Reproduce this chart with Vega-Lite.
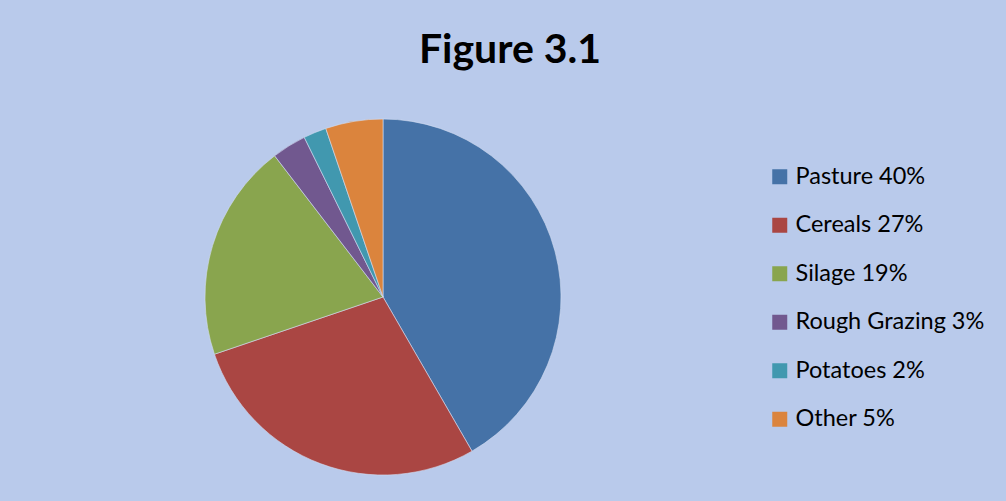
{
  "$schema": "https://vega.github.io/schema/vega-lite/v6.json",
  "width": 356,
  "height": 356,
  "autosize": {"type": "none"},
  "padding": {"left": 205, "top": 119, "right": 445, "bottom": 26},
  "background": "#b9caeb",
  "title": {
    "text": "Figure 3.1",
    "font": "Lato",
    "fontWeight": "bold",
    "fontSize": 41,
    "color": "#000000",
    "anchor": "middle",
    "frame": "group",
    "dx": 127,
    "offset": 46
  },
  "data": {
    "values": [
      {"category": "Pasture 40%", "value": 40, "order": 1},
      {"category": "Cereals 27%", "value": 27, "order": 2},
      {"category": "Silage 19%", "value": 19, "order": 3},
      {"category": "Rough Grazing 3%", "value": 3, "order": 4},
      {"category": "Potatoes 2%", "value": 2, "order": 5},
      {"category": "Other 5%", "value": 5, "order": 6}
    ]
  },
  "mark": {"type": "arc", "outerRadius": 178, "stroke": "#d3def2", "strokeWidth": 0.6},
  "encoding": {
    "theta": {"field": "value", "type": "quantitative", "stack": true},
    "order": {"field": "order", "type": "quantitative"},
    "color": {
      "field": "category",
      "type": "nominal",
      "sort": null,
      "scale": {
        "domain": ["Pasture 40%", "Cereals 27%", "Silage 19%", "Rough Grazing 3%", "Potatoes 2%", "Other 5%"],
        "range": ["#4572a7", "#aa4643", "#89a54e", "#71588f", "#4198af", "#db843d"]
      },
      "legend": {
        "title": null,
        "orient": "none",
        "legendX": 563,
        "legendY": 46,
        "padding": 0,
        "symbolType": "square",
        "symbolSize": 225,
        "symbolStrokeWidth": 0,
        "symbolOpacity": 1,
        "labelFont": "Lato",
        "labelFontSize": 23.5,
        "labelColor": "#000000",
        "labelLimit": 400,
        "labelOffset": 4,
        "rowPadding": 23.5
      }
    }
  },
  "config": {"view": {"stroke": null}}
}
